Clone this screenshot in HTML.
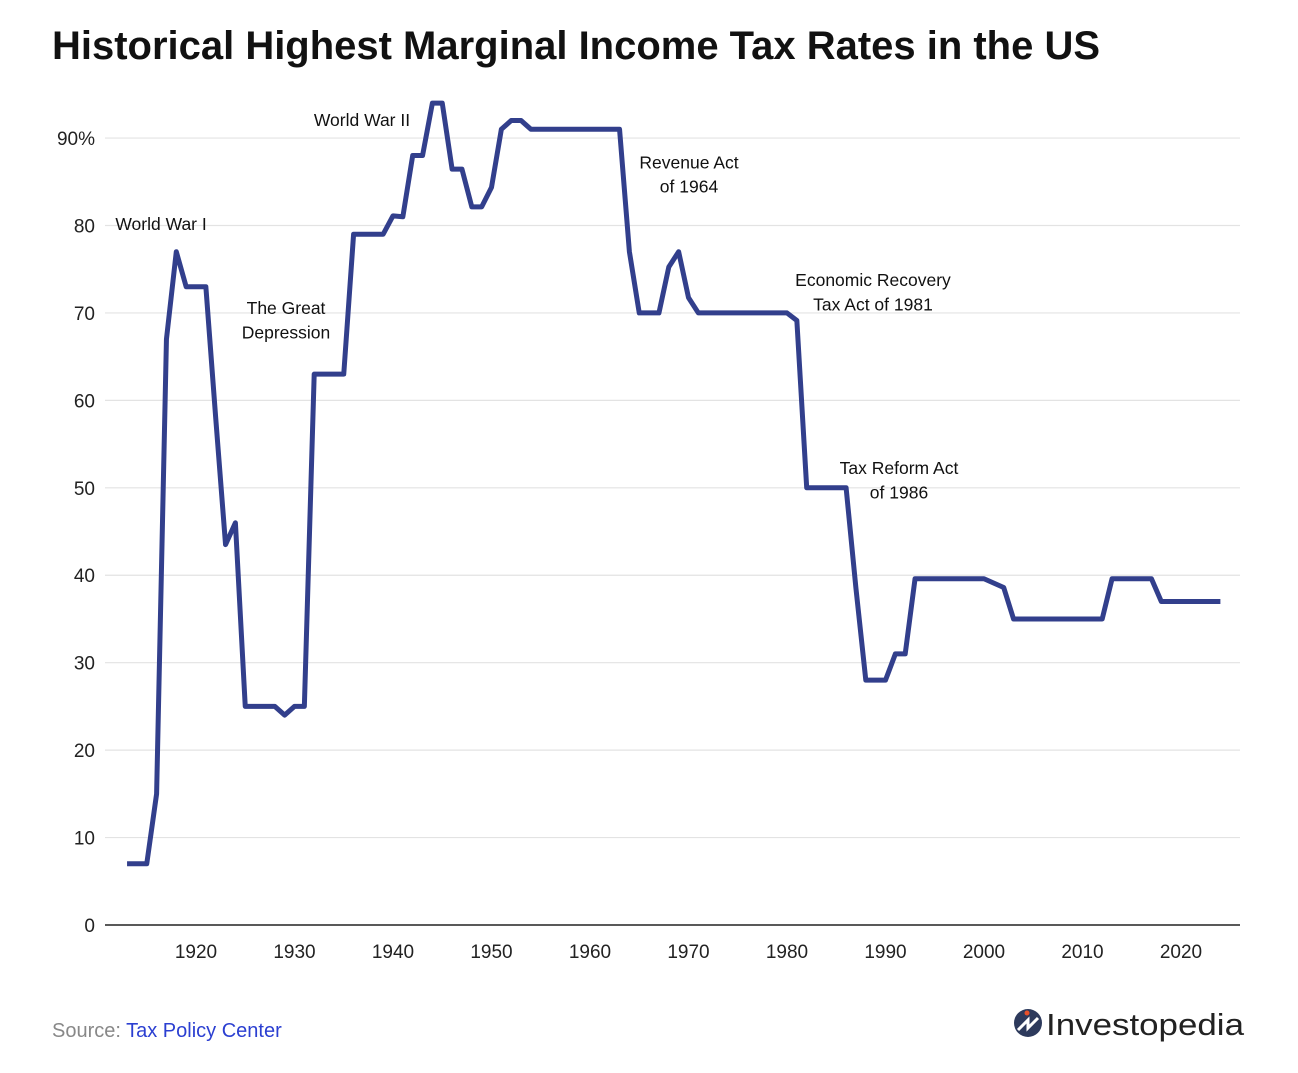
<!DOCTYPE html>
<html><head><meta charset="utf-8"><style>
body{margin:0;background:#fff;width:1298px;height:1068px;overflow:hidden;font-family:"Liberation Sans",sans-serif}
</style></head><body>
<svg width="1298" height="1068" xmlns="http://www.w3.org/2000/svg">
<text x="52" y="59" font-size="40" font-weight="bold" fill="#111" textLength="1048" lengthAdjust="spacingAndGlyphs">Historical Highest Marginal Income Tax Rates in the US</text>
<g id="grid"></g><g id="ann"></g>
<text x="52" y="1037" font-size="20" fill="#888">Source: <tspan fill="#2b3fd1">Tax Policy Center</tspan></text>
<g>
<circle cx="1028" cy="1023" r="14" fill="#2d3a5c"/>
<path d="M1018 1030 L1028 1020 L1028 1028 L1038 1018" stroke="#fff" stroke-width="3" fill="none"/>
<circle cx="1027" cy="1013" r="2.5" fill="#e8502a"/>
<text x="1046" y="1035" font-size="31" fill="#222" textLength="198" lengthAdjust="spacingAndGlyphs">Investopedia</text>
</g>
</svg>
<script>
const years=[];for(let y=1913;y<=2024;y++)years.push(y);
const rates=[7,7,7,15,67,77,73,73,73,58,43.5,46,25,25,25,25,24,25,25,63,63,63,63,79,79,79,79,81.1,81,88,88,94,94,86.45,86.45,82.13,82.13,84.36,91,92,92,91,91,91,91,91,91,91,91,91,91,77,70,70,70,75.25,77,71.75,70,70,70,70,70,70,70,70,70,70,69.13,50,50,50,50,50,38.5,28,28,28,31,31,39.6,39.6,39.6,39.6,39.6,39.6,39.6,39.6,39.1,38.6,35,35,35,35,35,35,35,35,35,35,39.6,39.6,39.6,39.6,39.6,37,37,37,37,37,37,37];
const yTicks=[0,10,20,30,40,50,60,70,80,90];
const xTicks=[1920,1930,1940,1950,1960,1970,1980,1990,2000,2010,2020];
const notes=[["World War I",1916.45,79.5],["The Great",1929.14,69.9],["Depression",1929.14,67.1],["World War II",1936.85,91.4],["Revenue Act",1970.05,86.5],["of 1964",1970.05,83.8],["Economic Recovery",1988.73,73.1],["Tax Act of 1981",1988.73,70.3],["Tax Reform Act",1991.37,51.6],["of 1986",1991.37,48.8]];
const X=y=>196+(y-1920)*9.85, Y=v=>925-v*8.744;
const NS="http://www.w3.org/2000/svg",svg=document.querySelector('svg'),g=document.getElementById('grid');
function mk(t,a,p){const e=document.createElementNS(NS,t);for(const k in a)e.setAttribute(k,a[k]);(p||svg).appendChild(e);return e;}
yTicks.forEach(v=>{
 const l=mk('line',{x1:105,x2:1240,y1:Y(v),y2:Y(v),stroke:v?'#e3e3e3':'#222','stroke-width':v?1.2:1.5},g);
 
 
 const t=mk('text',{x:95,y:Y(v)+7,'text-anchor':'end','font-size':19,fill:'#222'},g);
 t.textContent=v===90?'90%':v;
 
 
});
xTicks.forEach(y=>{
 const t=mk('text',{x:X(y),y:958,'text-anchor':'middle','font-size':19,fill:'#222'},g);
 t.textContent=y;
 
 
});
const p=mk('polyline',{points:years.map((y,i)=>X(y)+','+Y(rates[i])).join(' '),fill:'none',stroke:'#323f8c','stroke-width':5,'stroke-linejoin':'round'});


const an=document.getElementById('ann');
notes.forEach(n=>{
 const t=mk('text',{x:X(n[1]),y:Y(n[2]),'text-anchor':'middle','font-size':17.5,fill:'#111'},an);
 t.textContent=n[0];
 
 
});
</script>
</body></html>
